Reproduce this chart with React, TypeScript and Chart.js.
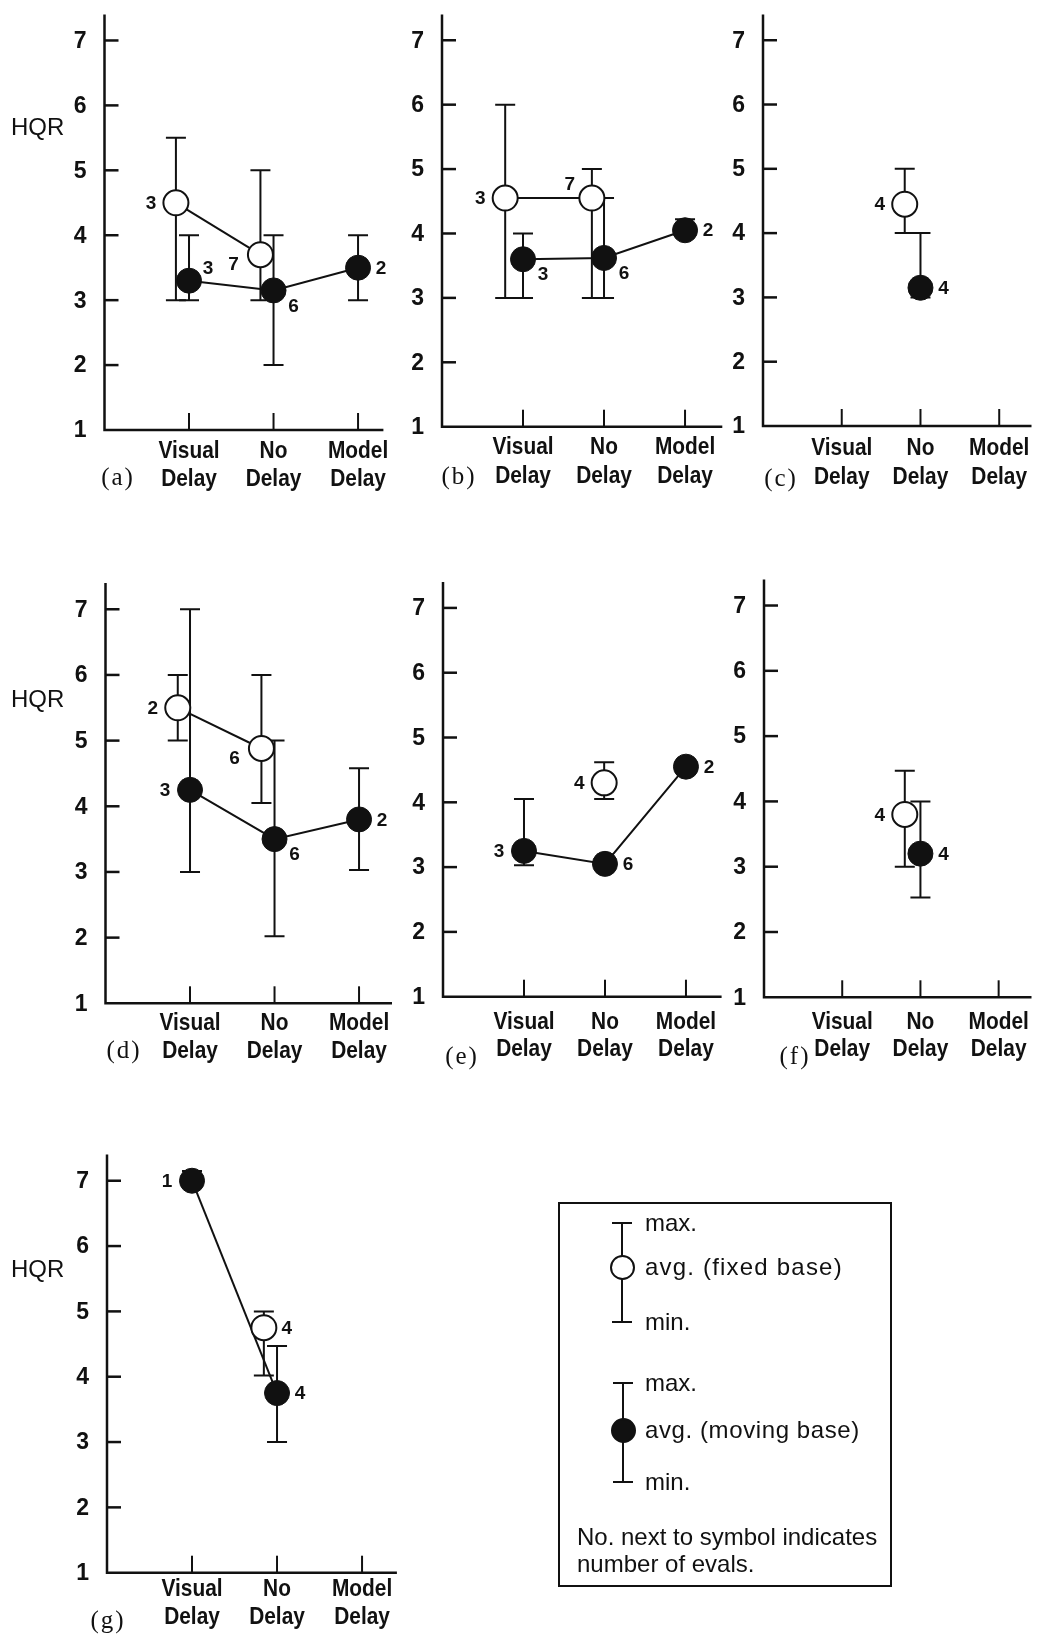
import React, { useEffect, useRef } from "react";
import { Chart, registerables } from "chart.js";

Chart.register(...registerables);

// ---------- shared axis content ----------
const categoryTop = ["Visual", "No", "Model"];
const categoryBottom = ["Delay", "Delay", "Delay"];
const categoryX = [1, 2, 3];
const yTickValues = [1, 2, 3, 4, 5, 6, 7];
const yAxisLabel = "HQR";

// ---------- (a) ----------
const aFixedAvg = [4.5, 3.7, null];
const aFixedMax = [5.5, 5.0, null];
const aFixedMin = [3.0, 3.0, null];
const aFixedN = [3, 7, null];
const aMovingAvg = [3.3, 3.15, 3.5];
const aMovingMax = [4.0, 4.0, 4.0];
const aMovingMin = [3.0, 2.0, 3.0];
const aMovingN = [3, 6, 2];

// ---------- (b) ----------
const bFixedAvg = [4.55, 4.55, null];
const bFixedMax = [6.0, 5.0, null];
const bFixedMin = [3.0, 3.0, null];
const bFixedN = [3, 7, null];
const bMovingAvg = [3.6, 3.62, 4.05];
const bMovingMax = [4.0, 4.55, 4.22];
const bMovingMin = [3.0, 3.0, 4.0];
const bMovingN = [3, 6, 2];

// ---------- (c) ----------
const cFixedAvg = [null, 4.45, null];
const cFixedMax = [null, 5.0, null];
const cFixedMin = [null, 4.0, null];
const cFixedN = [null, 4, null];
const cMovingAvg = [null, 3.15, null];
const cMovingMax = [null, 4.0, null];
const cMovingMin = [null, 3.0, null];
const cMovingN = [null, 4, null];

// ---------- (d) ----------
const dFixedAvg = [5.5, 4.88, null];
const dFixedMax = [6.0, 6.0, null];
const dFixedMin = [5.0, 4.05, null];
const dFixedN = [2, 6, null];
const dMovingAvg = [4.25, 3.5, 3.8];
const dMovingMax = [7.0, 5.0, 4.58];
const dMovingMin = [3.0, 2.02, 3.03];
const dMovingN = [3, 6, 2];

// ---------- (e) ----------
const eFixedAvg = [null, 4.3, null];
const eFixedMax = [null, 4.62, null];
const eFixedMin = [null, 4.05, null];
const eFixedN = [null, 4, null];
const eMovingAvg = [3.25, 3.05, 4.55];
const eMovingMax = [4.05, 3.1, 4.65];
const eMovingMin = [3.03, 3.0, 4.5];
const eMovingN = [3, 6, 2];

// ---------- (f) ----------
const fFixedAvg = [null, 3.8, null];
const fFixedMax = [null, 4.47, null];
const fFixedMin = [null, 3.0, null];
const fFixedN = [null, 4, null];
const fMovingAvg = [null, 3.2, null];
const fMovingMax = [null, 4.0, null];
const fMovingMin = [null, 2.53, null];
const fMovingN = [null, 4, null];

// ---------- (g) ----------
const gFixedAvg = [null, 4.75, null];
const gFixedMax = [null, 5.0, null];
const gFixedMin = [null, 4.02, null];
const gFixedN = [null, 4, null];
const gMovingAvg = [7.0, 3.75, null];
const gMovingMax = [7.15, 4.47, null];
const gMovingMin = [7.0, 3.0, null];
const gMovingN = [1, 4, null];

// ---------- legend text ----------
const legendFixedTexts = ["max.", "avg. (fixed base)", "min."];
const legendMovingTexts = ["max.", "avg. (moving base)", "min."];
const legendNote = ["No. next to symbol indicates", "number of evals."];

// ---------- layout / style (no data) ----------
const W = 1046;
const H = 1635;
const Y_MAX = 7.4;
const INK = "#111";
const SANS = '"Liberation Sans", Arial, sans-serif';
const SERIF = '"Liberation Serif", "Times New Roman", serif';
const R = 12.5;

const LABEL_OFFSETS: Record<string, [number, number]> = {
  L: [-25, 0],
  R: [23, 0],
  RU: [19, -13],
  RD: [20, 15],
  LD: [-27, 9],
  LU: [-22, -14],
};

type Series = { avg: (number | null)[]; max: (number | null)[]; min: (number | null)[]; n: (number | null)[] };

const panels = [
  {
    key: "a", tag: "(a)", tagX: 118, tagY: 478, hqr: true, hqrY: 128,
    box: { l: 104.5, r: 383.4, t: 7, b: 430 }, xMax: 3.3, catY: [451, 479],
    fixed: { avg: aFixedAvg, max: aFixedMax, min: aFixedMin, n: aFixedN },
    moving: { avg: aMovingAvg, max: aMovingMax, min: aMovingMin, n: aMovingN },
    fixedShift: [-0.155, -0.155, 0], fixedLabels: ["L", "LD", null], movingLabels: ["RU", "RD", "R"],
  },
  {
    key: "b", tag: "(b)", tagX: 459, tagY: 477, hqr: false, hqrY: 0,
    box: { l: 442, r: 722.3, t: 6.2, b: 426.7 }, xMax: 3.46, catY: [447, 476],
    fixed: { avg: bFixedAvg, max: bFixedMax, min: bFixedMin, n: bFixedN },
    moving: { avg: bMovingAvg, max: bMovingMax, min: bMovingMin, n: bMovingN },
    fixedShift: [-0.22, -0.15, 0], fixedLabels: ["L", "LU", null], movingLabels: ["RD", "RD", "R"],
  },
  {
    key: "c", tag: "(c)", tagX: 781, tagY: 479, hqr: false, hqrY: 0,
    box: { l: 763, r: 1046, t: 6.2, b: 426 }, xMax: 3.41, catY: [448, 477],
    fixed: { avg: cFixedAvg, max: cFixedMax, min: cFixedMin, n: cFixedN },
    moving: { avg: cMovingAvg, max: cMovingMax, min: cMovingMin, n: cMovingN },
    fixedShift: [0, -0.2, 0], fixedLabels: [null, "L", null], movingLabels: [null, "R", null],
  },
  {
    key: "d", tag: "(d)", tagX: 124, tagY: 1051, hqr: true, hqrY: 700,
    box: { l: 105.5, r: 392, t: 583, b: 1003.3 }, xMax: 3.39, catY: [1023, 1051],
    fixed: { avg: dFixedAvg, max: dFixedMax, min: dFixedMin, n: dFixedN },
    moving: { avg: dMovingAvg, max: dMovingMax, min: dMovingMin, n: dMovingN },
    fixedShift: [-0.145, -0.155, 0], fixedLabels: ["L", "LD", null], movingLabels: ["L", "RD", "R"],
  },
  {
    key: "e", tag: "(e)", tagX: 462, tagY: 1057, hqr: false, hqrY: 0,
    box: { l: 443, r: 721.6, t: 582, b: 996.7 }, xMax: 3.44, catY: [1022, 1049],
    fixed: { avg: eFixedAvg, max: eFixedMax, min: eFixedMin, n: eFixedN },
    moving: { avg: eMovingAvg, max: eMovingMax, min: eMovingMin, n: eMovingN },
    fixedShift: [0, -0.01, 0], fixedLabels: [null, "L", null], movingLabels: ["L", "R", "R"],
  },
  {
    key: "f", tag: "(f)", tagX: 795, tagY: 1057, hqr: false, hqrY: 0,
    box: { l: 764, r: 1046, t: 579.4, b: 997.3 }, xMax: 3.42, catY: [1022, 1049],
    fixed: { avg: fFixedAvg, max: fFixedMax, min: fFixedMin, n: fFixedN },
    moving: { avg: fMovingAvg, max: fMovingMax, min: fMovingMin, n: fMovingN },
    fixedShift: [0, -0.2, 0], fixedLabels: [null, "L", null], movingLabels: [null, "R", null],
  },
  {
    key: "g", tag: "(g)", tagX: 108, tagY: 1621, hqr: true, hqrY: 1270,
    box: { l: 107, r: 396.9, t: 1154.6, b: 1572.7 }, xMax: 3.41, catY: [1589, 1617],
    fixed: { avg: gFixedAvg, max: gFixedMax, min: gFixedMin, n: gFixedN },
    moving: { avg: gMovingAvg, max: gMovingMax, min: gMovingMin, n: gMovingN },
    fixedShift: [0, -0.155, 0], fixedLabels: [null, "R", null], movingLabels: ["L", "R", null],
  },
];

type Panel = (typeof panels)[number];

function condensedText(ctx: CanvasRenderingContext2D, text: string, x: number, y: number, sx: number) {
  ctx.save();
  ctx.translate(x, y);
  ctx.scale(sx, 1);
  ctx.fillText(text, 0, 0);
  ctx.restore();
}

function makeDecor(p: Panel) {
  const seriesList = [
    { s: p.fixed as Series, shift: p.fixedShift, labels: p.fixedLabels },
    { s: p.moving as Series, shift: [0, 0, 0], labels: p.movingLabels },
  ];
  return {
    id: "decor_" + p.key,
    beforeDatasetsDraw(chart: any) {
      const ctx = chart.ctx as CanvasRenderingContext2D;
      const xs = chart.scales.x;
      const ys = chart.scales.y;
      const x0 = xs.getPixelForValue(0);
      const xEnd = xs.getPixelForValue(p.xMax);
      const yBase = ys.getPixelForValue(1);
      const yTop = ys.getPixelForValue(Y_MAX);
      ctx.save();
      ctx.strokeStyle = INK;
      ctx.fillStyle = INK;
      ctx.lineWidth = 2.5;
      ctx.lineCap = "butt";
      ctx.beginPath();
      ctx.moveTo(x0, yTop);
      ctx.lineTo(x0, yBase);
      ctx.lineTo(xEnd, yBase);
      ctx.stroke();
      // y ticks (inward)
      yTickValues.forEach((v) => {
        if (v === 1) return;
        const y = ys.getPixelForValue(v);
        ctx.beginPath();
        ctx.moveTo(x0, y);
        ctx.lineTo(x0 + 14, y);
        ctx.stroke();
      });
      // x ticks (inward)
      ctx.lineWidth = 2;
      categoryX.forEach((c) => {
        const x = xs.getPixelForValue(c);
        ctx.beginPath();
        ctx.moveTo(x, yBase);
        ctx.lineTo(x, yBase - 17);
        ctx.stroke();
      });
      // y tick labels
      ctx.font = "bold 23px " + SANS;
      ctx.textAlign = "right";
      ctx.textBaseline = "middle";
      yTickValues.forEach((v) => {
        ctx.fillText(String(v), x0 - 18, ys.getPixelForValue(v) + 1);
      });
      // category labels (condensed bold sans)
      ctx.font = "bold 24px " + SANS;
      ctx.textAlign = "center";
      categoryX.forEach((c, i) => {
        const x = xs.getPixelForValue(c);
        condensedText(ctx, categoryTop[i], x, p.catY[0], 0.87);
        condensedText(ctx, categoryBottom[i], x, p.catY[1], 0.87);
      });
      // panel tag
      ctx.font = "25px " + SERIF;
      (ctx as any).letterSpacing = "2px";
      ctx.fillText(p.tag, p.tagX, p.tagY);
      (ctx as any).letterSpacing = "0px";
      // HQR
      if (p.hqr) {
        ctx.font = "24px " + SANS;
        ctx.textAlign = "left";
        ctx.fillText(yAxisLabel, 11, p.hqrY);
      }
      // error bars
      ctx.lineWidth = 2;
      seriesList.forEach(({ s, shift }) => {
        s.avg.forEach((a, i) => {
          if (a == null || s.max[i] == null || s.min[i] == null) return;
          const x = xs.getPixelForValue(categoryX[i] + shift[i]);
          const yHi = ys.getPixelForValue(s.max[i] as number);
          const yLo = ys.getPixelForValue(s.min[i] as number);
          ctx.beginPath();
          ctx.moveTo(x, yHi);
          ctx.lineTo(x, yLo);
          ctx.moveTo(x - 10, yHi);
          ctx.lineTo(x + 10, yHi);
          ctx.moveTo(x - 10, yLo);
          ctx.lineTo(x + 10, yLo);
          ctx.stroke();
        });
      });
      ctx.restore();
    },
    afterDatasetsDraw(chart: any) {
      const ctx = chart.ctx as CanvasRenderingContext2D;
      const xs = chart.scales.x;
      const ys = chart.scales.y;
      ctx.save();
      ctx.fillStyle = INK;
      ctx.font = "bold 19px " + SANS;
      ctx.textAlign = "center";
      ctx.textBaseline = "middle";
      seriesList.forEach(({ s, shift, labels }) => {
        s.avg.forEach((a, i) => {
          const n = s.n[i];
          const side = labels[i];
          if (a == null || n == null || !side) return;
          const [dx, dy] = LABEL_OFFSETS[side];
          const x = xs.getPixelForValue(categoryX[i] + shift[i]) + dx;
          const y = ys.getPixelForValue(a) + dy;
          ctx.fillText(String(n), x, y + 1);
        });
      });
      ctx.restore();
    },
  };
}

function buildChart(canvas: HTMLCanvasElement, p: Panel) {
  const fixed = p.fixed as Series;
  const moving = p.moving as Series;
  return new Chart(canvas, {
    type: "scatter",
    data: {
      datasets: [
        {
          label: "avg. (fixed base)",
          data: categoryX.map((c, i) => ({ x: c + p.fixedShift[i], y: fixed.avg[i] as any })),
          showLine: true,
          spanGaps: false,
          borderColor: INK,
          borderWidth: 2,
          pointRadius: R,
          pointBackgroundColor: "#ffffff",
          pointBorderColor: INK,
          pointBorderWidth: 2,
          clip: false as any,
        },
        {
          label: "avg. (moving base)",
          data: categoryX.map((c, i) => ({ x: c, y: moving.avg[i] as any })),
          showLine: true,
          spanGaps: false,
          borderColor: INK,
          borderWidth: 2,
          pointRadius: R,
          pointBackgroundColor: INK,
          pointBorderColor: INK,
          pointBorderWidth: 1,
          clip: false as any,
        },
      ],
    },
    options: {
      responsive: false,
      animation: false,
      events: [],
      layout: { padding: { left: p.box.l, right: W - p.box.r, top: p.box.t, bottom: H - p.box.b } },
      scales: {
        x: { type: "linear", min: 0, max: p.xMax, display: false },
        y: { type: "linear", min: 1, max: Y_MAX, display: false },
      },
      plugins: { legend: { display: false }, tooltip: { enabled: false } },
    },
    plugins: [makeDecor(p)],
  } as any);
}

const abs = (o: React.CSSProperties): React.CSSProperties => ({ position: "absolute", ...o });

function LegendGlyph({ cx, yMax, yMid, yMin, filled }: { cx: number; yMax: number; yMid: number; yMin: number; filled: boolean }) {
  return (
    <>
      <div style={abs({ left: cx - 1, top: yMax, width: 2, height: yMin - yMax, background: INK })} />
      <div style={abs({ left: cx - 10, top: yMax - 1, width: 20, height: 2, background: INK })} />
      <div style={abs({ left: cx - 10, top: yMin - 1, width: 20, height: 2, background: INK })} />
      <div
        style={abs({
          left: cx - R,
          top: yMid - R,
          width: R * 2,
          height: R * 2,
          borderRadius: "50%",
          border: `2px solid ${INK}`,
          boxSizing: "border-box",
          background: filled ? INK : "#fff",
        })}
      />
    </>
  );
}

function LegendText({ x, y, text, spacing = 0 }: { x: number; y: number; text: string; spacing?: number }) {
  return (
    <div
      style={abs({
        left: x,
        top: y - 15,
        height: 30,
        lineHeight: "30px",
        fontSize: 24,
        letterSpacing: spacing,
        fontFamily: SANS,
        color: INK,
        whiteSpace: "nowrap",
      })}
    >
      {text}
    </div>
  );
}

export default function App() {
  const refs = useRef<(HTMLCanvasElement | null)[]>([]);

  useEffect(() => {
    const charts = panels.map((p, i) => buildChart(refs.current[i] as HTMLCanvasElement, p));
    return () => charts.forEach((c) => c.destroy());
  }, []);

  const fixedYs = [1223, 1267, 1322];
  const movingYs = [1383, 1430, 1482];

  return (
    <div style={abs({ left: 0, top: 0, width: W, height: H, background: "#fff", overflow: "hidden" })}>
      {panels.map((p, i) => (
        <canvas
          key={p.key}
          ref={(el) => {
            refs.current[i] = el;
          }}
          width={W}
          height={H}
          style={abs({ left: 0, top: 0, width: W, height: H })}
        />
      ))}
      <div style={abs({ left: 558, top: 1202, width: 334, height: 385, border: `2px solid ${INK}`, boxSizing: "border-box" })} />
      <LegendGlyph cx={622} yMax={fixedYs[0]} yMid={fixedYs[1]} yMin={fixedYs[2]} filled={false} />
      {legendFixedTexts.map((t, i) => (
        <LegendText key={"f" + i} x={645} y={fixedYs[i]} text={t} spacing={i === 1 ? 1.2 : 0} />
      ))}
      <LegendGlyph cx={623} yMax={movingYs[0]} yMid={movingYs[1]} yMin={movingYs[2]} filled={true} />
      {legendMovingTexts.map((t, i) => (
        <LegendText key={"m" + i} x={645} y={movingYs[i]} text={t} spacing={i === 1 ? 0.6 : 0} />
      ))}
      <LegendText x={577} y={1537} text={legendNote[0]} />
      <LegendText x={577} y={1564} text={legendNote[1]} />
    </div>
  );
}
